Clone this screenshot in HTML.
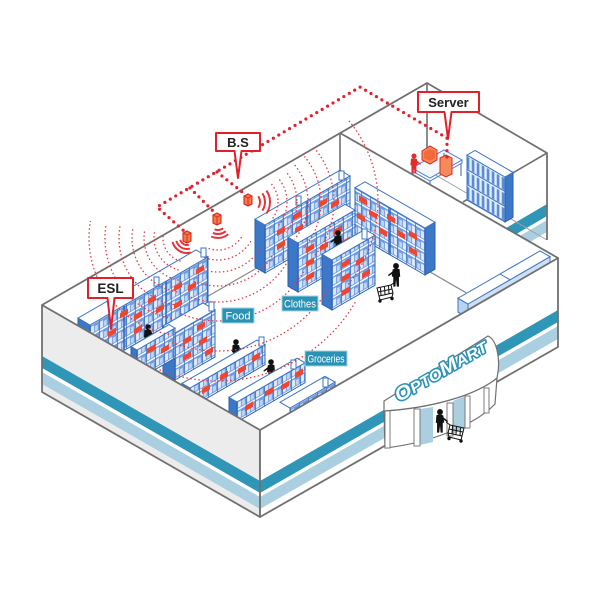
<!DOCTYPE html>
<html><head><meta charset="utf-8">
<style>
html,body{margin:0;padding:0;background:#fff;}
svg{display:block;}
text{font-family:"Liberation Sans",Arial,sans-serif;}
.lbl{font-family:"Liberation Sans Narrow","Liberation Sans",sans-serif;}
</style></head><body>
<svg width="600" height="600" viewBox="0 0 600 600" xmlns="http://www.w3.org/2000/svg" xmlns:xlink="http://www.w3.org/1999/xlink">
<defs>
<pattern id="sp" width="9" height="11" patternUnits="userSpaceOnUse">
 <rect width="9" height="11" fill="#6f9be0"/>
 <rect x="0" y="0" width="9" height="1.6" fill="#fff"/>
 <rect x="1" y="2.6" width="3" height="6.8" fill="#e3edfa"/>
 <rect x="5" y="2.6" width="2.8" height="5.4" fill="#c2d7f3"/>
 <rect x="0" y="0" width="0.7" height="11" fill="#3a6fc2"/>
</pattern>
<pattern id="bp" width="5" height="15" patternUnits="userSpaceOnUse">
 <rect width="5" height="15" fill="#e4edf9"/>
 <rect x="0.6" y="1.5" width="2.6" height="12" fill="#5a8cd6"/>
 <rect x="0" y="0" width="5" height="1.2" fill="#3a74c6"/>
</pattern>
<g id="pp"><circle cx="0" cy="0" r="2.8"/><path d="M-3.4,3 C-1,2.2 1.5,2.4 3.2,3.4 L4,10 L2.6,10.4 L2.6,19.6 L0.6,19.6 L0,13 L-0.8,19.6 L-2.8,19.6 L-2.8,10.6 L-4,10 Z"/><path d="M2.6,4.6 L7.5,8.5 L7.2,9.8 L2,6.6 Z"/></g>
<g id="cart" fill="none" stroke="#111" stroke-width="1"><path d="M0,0 L14,-3 L16,5 L2,8 Z"/><path d="M4,7.5 L3.5,0 M8,6.5 L7.5,-1 M12,5.5 L11.5,-2 M1,4 L15,1"/><path d="M2,8 L3,12 L15,9 L16,5"/><circle cx="3" cy="13" r="1.2" fill="#111"/><circle cx="15" cy="10.5" r="1.2" fill="#111"/><path d="M14,-3 L18,-6"/></g>
<clipPath id="w1s"><polygon points="187,238 251.7,479.5 62,454.5 -54.5,302.7"/></clipPath>
<clipPath id="w1d"><polygon points="187,238 143.6,484.2 -17.8,381.4 -59.2,194.6"/></clipPath>
<clipPath id="w2s"><polygon points="218,222 378.7,413.5 252.8,469.5 112.3,448.6"/></clipPath>
<clipPath id="w2d"><polygon points="218,222 434.5,347 303.5,457 124.3,453.8"/></clipPath>
<clipPath id="w3s"><polygon points="250,202 454.8,58.5 500,202 454.8,345.5"/></clipPath>
<clipPath id="w3d"><polygon points="250,202 441.5,41.3 500,202 441.5,362.7"/></clipPath>
</defs>

<rect width="600" height="600" fill="#fff"/>

<polygon points="505,177.6 547,153 547,240 505,264.3" fill="#fff"/>
<polygon points="505,228.6 547,204 547,216 505,240.6" fill="#2f96b8"/>
<polygon points="505,244.6 547,220 547,232 505,256.6" fill="#a9cfe1"/>
<line x1="427" y1="170" x2="547" y2="240" stroke="#a0a0a0" stroke-width="1"/>
<line x1="427" y1="83" x2="427" y2="170" stroke="#707070" stroke-width="1.6"/>
<line x1="463" y1="202" x2="547" y2="153" stroke="#707070" stroke-width="1.6"/>

<g transform="matrix(-1,-0.577,0,-1,505,222)"><rect width="38" height="45" fill="url(#bp)" stroke="#3a74c6" vector-effect="non-scaling-stroke"/></g>
<g transform="matrix(1,-0.577,0,-1,505,222)"><rect width="8" height="45" fill="#3d78c8" stroke="#2a5fae" vector-effect="non-scaling-stroke"/></g>
<g transform="matrix(-1,-0.577,1,-0.577,505,177)"><rect width="38" height="8" fill="#fff" stroke="#3a74c6" vector-effect="non-scaling-stroke"/></g>
<polygon points="412,168 444,150 462,160 430,178" fill="#f4f8fd" stroke="#4a7fd0" stroke-width="1"/>
<polyline points="412,168 412,171 430,181 462,163 462,160" fill="none" stroke="#4a7fd0" stroke-width="1"/>
<path d="M413,171 V183 M430,181 V193 M461,163 V176 M444,153 V163" stroke="#4a7fd0" stroke-width="1.2"/>
<polygon points="422,160 422,151 430,146 437,150 437,160 430,164" fill="#f58a5a" stroke="#d82a22" stroke-width="1"/>
<polygon points="424,152 430,149 435,151 435,158 430,161 424,158" fill="#f26a3a"/>
<polygon points="440,158 446,155 452,158 452,174 446,177 440,174" fill="#f58a5a" stroke="#d82a22" stroke-width="1"/>
<use xlink:href="#pp" href="#pp" fill="#e32b2b" transform="translate(414,156) scale(0.9)"/>

<polygon points="340,133 558,258 558,345 340,220" fill="#fff"/>

<polyline points="42,305 427,83 547,153 547,240" fill="none" stroke="#707070" stroke-width="1.8" stroke-linejoin="round"/>
<line x1="340" y1="133" x2="558" y2="258" stroke="#707070" stroke-width="1.8"/>
<line x1="340" y1="133" x2="340" y2="220" stroke="#707070" stroke-width="1.6"/>
<line x1="340" y1="220" x2="150" y2="329.6" stroke="#8a8a8a" stroke-width="1.2"/>
<line x1="340" y1="220" x2="466" y2="292.7" stroke="#8a8a8a" stroke-width="1.2"/>

<g transform="matrix(1,-0.577,0,-1,468,318)"><rect width="82" height="14" fill="#cfe0f5" stroke="#3a74c6" vector-effect="non-scaling-stroke"/></g>
<g transform="matrix(-1,-0.577,0,-1,468,318)"><rect width="10" height="14" fill="#b9d2f0" stroke="#3a74c6" vector-effect="non-scaling-stroke"/></g>
<g transform="matrix(1,-0.577,-1,-0.577,468,304)"><rect width="82" height="10" fill="#fff" stroke="#3a74c6" vector-effect="non-scaling-stroke"/><path d="M42,0 V10" stroke="#3a74c6" vector-effect="non-scaling-stroke"/></g>

<g transform="matrix(1,-0.577,0,-1,90,370)"><rect width="118" height="45" fill="url(#sp)" stroke="#2d63b5" vector-effect="non-scaling-stroke"/><path d="M34,0 V45 M76,0 V45" stroke="#2d63b5" stroke-width="1.5" vector-effect="non-scaling-stroke"/>
<g fill="#f0452f"><rect x="18" y="22" width="8" height="5.5"/><rect x="30" y="34" width="8" height="5.5"/><rect x="44" y="24" width="8" height="5.5"/><rect x="44" y="10" width="8" height="5.5"/><rect x="58" y="32" width="8" height="5.5"/><rect x="66" y="18" width="8" height="5.5"/><rect x="84" y="30" width="8" height="5.5"/><rect x="84" y="12" width="8" height="5.5"/><rect x="98" y="22" width="8" height="5.5"/><rect x="106" y="34" width="8" height="5.5"/></g></g>
<g transform="matrix(-1,-0.577,0,-1,90,370)"><rect width="12" height="45" fill="#3d78c8" stroke="#2a5fae" vector-effect="non-scaling-stroke"/></g>
<g transform="matrix(1,-0.577,-1,-0.577,90,325)"><rect width="118" height="12" fill="#fff" stroke="#3a74c6" vector-effect="non-scaling-stroke"/></g>

<g transform="matrix(1,-0.577,0,-1,175,380)"><rect width="40" height="47" fill="url(#sp)" stroke="#2d63b5" vector-effect="non-scaling-stroke"/>
<g fill="#f0452f"><rect x="8" y="30" width="8" height="5.5"/><rect x="8" y="14" width="8" height="5.5"/><rect x="22" y="36" width="8" height="5.5"/><rect x="24" y="20" width="8" height="5.5"/><rect x="30" y="6" width="8" height="5.5"/></g></g>
<g transform="matrix(-1,-0.577,0,-1,175,380)"><rect width="12" height="47" fill="#3d78c8" stroke="#2a5fae" vector-effect="non-scaling-stroke"/></g>
<g transform="matrix(1,-0.577,-1,-0.577,175,333)"><rect width="40" height="12" fill="#fff" stroke="#3a74c6" vector-effect="non-scaling-stroke"/></g>

<use xlink:href="#pp" href="#pp" fill="#111" transform="translate(148,327)"/>

<g transform="matrix(1,-0.577,0,-1,137,380)"><rect width="38" height="30" fill="url(#sp)" stroke="#2d63b5" vector-effect="non-scaling-stroke"/>
<g fill="#f0452f"><rect x="10" y="20" width="8" height="5.5"/><rect x="24" y="12" width="8" height="5.5"/></g></g>
<g transform="matrix(-1,-0.577,0,-1,137,380)"><rect width="6" height="30" fill="#3d78c8" stroke="#2a5fae" vector-effect="non-scaling-stroke"/></g>
<g transform="matrix(1,-0.577,-1,-0.577,137,350)"><rect width="38" height="6" fill="#fff" stroke="#3a74c6" vector-effect="non-scaling-stroke"/></g>

<g transform="matrix(1,-0.577,0,-1,265,273)"><rect width="85" height="48" fill="url(#sp)" stroke="#2d63b5" vector-effect="non-scaling-stroke"/><path d="M42,0 V48" stroke="#2d63b5" stroke-width="1.5" vector-effect="non-scaling-stroke"/>
<g fill="#f0452f"><rect x="12" y="30" width="8" height="5.5"/><rect x="12" y="16" width="8" height="5.5"/><rect x="28" y="36" width="8" height="5.5"/><rect x="30" y="22" width="8" height="5.5"/><rect x="54" y="34" width="8" height="5.5"/><rect x="66" y="26" width="8" height="5.5"/><rect x="72" y="12" width="8" height="5.5"/></g></g>
<g transform="matrix(-1,-0.577,0,-1,265,273)"><rect width="10" height="48" fill="#3d78c8" stroke="#2a5fae" vector-effect="non-scaling-stroke"/></g>
<g transform="matrix(1,-0.577,-1,-0.577,265,225)"><rect width="85" height="10" fill="#fff" stroke="#3a74c6" vector-effect="non-scaling-stroke"/></g>

<g transform="matrix(-1,-0.577,0,-1,425,275)"><rect width="70" height="47" fill="url(#sp)" stroke="#2d63b5" vector-effect="non-scaling-stroke"/><path d="M35,0 V47" stroke="#2d63b5" stroke-width="1.5" vector-effect="non-scaling-stroke"/>
<g fill="#f0452f"><rect x="8" y="30" width="8" height="5.5"/><rect x="8" y="14" width="8" height="5.5"/><rect x="20" y="24" width="8" height="5.5"/><rect x="30" y="34" width="8" height="5.5"/><rect x="38" y="16" width="8" height="5.5"/><rect x="48" y="28" width="8" height="5.5"/><rect x="58" y="36" width="8" height="5.5"/><rect x="60" y="18" width="8" height="5.5"/></g></g>
<g transform="matrix(1,-0.577,0,-1,425,275)"><rect width="10" height="47" fill="#3d78c8" stroke="#2a5fae" vector-effect="non-scaling-stroke"/></g>
<g transform="matrix(-1,-0.577,1,-0.577,425,228)"><rect width="70" height="10" fill="#fff" stroke="#3a74c6" vector-effect="non-scaling-stroke"/></g>

<g transform="matrix(1,-0.577,0,-1,298,292)"><rect width="57" height="49" fill="url(#sp)" stroke="#2d63b5" vector-effect="non-scaling-stroke"/>
<g fill="#f0452f"><rect x="8" y="34" width="8" height="5.5"/><rect x="8" y="20" width="8" height="5.5"/><rect x="8" y="6" width="8" height="5.5"/><rect x="22" y="28" width="8" height="5.5"/><rect x="36" y="36" width="8" height="5.5"/><rect x="44" y="20" width="8" height="5.5"/></g></g>
<g transform="matrix(-1,-0.577,0,-1,298,292)"><rect width="10" height="49" fill="#3d78c8" stroke="#2a5fae" vector-effect="non-scaling-stroke"/></g>
<g transform="matrix(1,-0.577,-1,-0.577,298,243)"><rect width="57" height="10" fill="#fff" stroke="#3a74c6" vector-effect="non-scaling-stroke"/></g>

<use xlink:href="#pp" href="#pp" fill="#111" transform="translate(338,233) scale(-1,1)"/>

<g transform="matrix(1,-0.577,0,-1,332,310)"><rect width="43" height="50" fill="url(#sp)" stroke="#2d63b5" vector-effect="non-scaling-stroke"/>
<g fill="#f0452f"><rect x="10" y="36" width="8" height="5.5"/><rect x="10" y="22" width="8" height="5.5"/><rect x="10" y="8" width="8" height="5.5"/><rect x="24" y="30" width="8" height="5.5"/><rect x="30" y="14" width="8" height="5.5"/></g></g>
<g transform="matrix(-1,-0.577,0,-1,332,310)"><rect width="10" height="50" fill="#3d78c8" stroke="#2a5fae" vector-effect="non-scaling-stroke"/></g>
<g transform="matrix(1,-0.577,-1,-0.577,332,260)"><rect width="43" height="10" fill="#fff" stroke="#3a74c6" vector-effect="non-scaling-stroke"/></g>

<use xlink:href="#cart" href="#cart" transform="translate(377,288)"/>
<use xlink:href="#pp" href="#pp" fill="#111" transform="translate(396,266) scale(-1.05,1.05)"/>

<use xlink:href="#pp" href="#pp" fill="#111" transform="translate(236,342)"/>

<g transform="matrix(1,-0.577,0,-1,190,408)"><rect width="75" height="20" fill="url(#sp)" stroke="#2d63b5" vector-effect="non-scaling-stroke"/>
<g fill="#f0452f"><rect x="12" y="7" width="8" height="5.5"/><rect x="30" y="10" width="8" height="5.5"/><rect x="48" y="6" width="8" height="5.5"/><rect x="62" y="10" width="8" height="5.5"/></g></g>
<g transform="matrix(-1,-0.577,0,-1,190,408)"><rect width="8" height="20" fill="#3d78c8" stroke="#2a5fae" vector-effect="non-scaling-stroke"/></g>
<g transform="matrix(1,-0.577,-1,-0.577,190,388)"><rect width="75" height="8" fill="#fff" stroke="#3a74c6" vector-effect="non-scaling-stroke"/></g>

<use xlink:href="#pp" href="#pp" fill="#111" transform="translate(271,362) scale(-1,1)"/>

<g transform="matrix(1,-0.577,0,-1,237,422)"><rect width="68" height="20" fill="url(#sp)" stroke="#2d63b5" vector-effect="non-scaling-stroke"/>
<g fill="#f0452f"><rect x="8" y="6" width="8" height="5.5"/><rect x="28" y="9" width="8" height="5.5"/><rect x="44" y="6" width="8" height="5.5"/><rect x="58" y="10" width="8" height="5.5"/></g></g>
<g transform="matrix(-1,-0.577,0,-1,237,422)"><rect width="8" height="20" fill="#3d78c8" stroke="#2a5fae" vector-effect="non-scaling-stroke"/></g>
<g transform="matrix(1,-0.577,-1,-0.577,237,402)"><rect width="68" height="8" fill="#fff" stroke="#3a74c6" vector-effect="non-scaling-stroke"/></g>

<g transform="matrix(1,-0.577,0,-1,290,420)"><rect width="45" height="12" fill="url(#sp)" stroke="#2d63b5" vector-effect="non-scaling-stroke"/></g>
<g transform="matrix(1,-0.577,-1,-0.577,290,408)"><rect width="45" height="10" fill="#fff" stroke="#3a74c6" vector-effect="non-scaling-stroke"/></g>

<g fill="#fff" stroke="#3a74c6" stroke-width="1">
<rect x="201" y="248" width="5" height="9"/><rect x="154" y="277" width="5" height="9"/><rect x="209" y="302" width="5" height="9"/>
<rect x="259" y="337" width="5" height="9"/><rect x="291" y="360" width="5" height="9"/><rect x="323" y="378" width="5" height="9"/>
<rect x="296" y="196" width="5" height="9"/><rect x="339" y="171" width="5" height="9"/><rect x="362" y="229" width="5" height="10"/>
</g>

<g fill="none" stroke="#e8333a" stroke-width="2" clip-path="url(#w1s)"><circle cx="187" cy="238" r="7"/><circle cx="187" cy="238" r="11"/><circle cx="187" cy="238" r="15"/></g>
<g fill="none" stroke="#e23a44" stroke-width="1.3" stroke-dasharray="1.5 2.5" clip-path="url(#w1d)"><circle cx="187" cy="238" r="24"/><circle cx="187" cy="238" r="33"/><circle cx="187" cy="238" r="43"/><circle cx="187" cy="238" r="55"/><circle cx="187" cy="238" r="68"/><circle cx="187" cy="238" r="82"/><circle cx="187" cy="238" r="98"/></g>
<g fill="none" stroke="#e8333a" stroke-width="2" clip-path="url(#w2s)"><circle cx="218" cy="222" r="8"/><circle cx="218" cy="222" r="12"/><circle cx="218" cy="222" r="16"/></g>
<g fill="none" stroke="#e23a44" stroke-width="1.3" stroke-dasharray="1.5 2.5" clip-path="url(#w2d)"><circle cx="218" cy="222" r="28"/><circle cx="218" cy="222" r="38"/><circle cx="218" cy="222" r="50"/><circle cx="218" cy="222" r="64"/><circle cx="218" cy="222" r="80"/><circle cx="218" cy="222" r="99"/><circle cx="218" cy="222" r="129"/><circle cx="218" cy="222" r="159"/></g>
<g fill="none" stroke="#e8333a" stroke-width="2" clip-path="url(#w3s)"><circle cx="250" cy="202" r="10"/><circle cx="250" cy="202" r="15"/><circle cx="250" cy="202" r="20"/></g>
<g fill="none" stroke="#e23a44" stroke-width="1.3" stroke-dasharray="1.5 2.5" clip-path="url(#w3d)"><circle cx="250" cy="202" r="28"/><circle cx="250" cy="202" r="37"/><circle cx="250" cy="202" r="47"/><circle cx="250" cy="202" r="58"/><circle cx="250" cy="202" r="71"/><circle cx="250" cy="202" r="84"/><circle cx="250" cy="202" r="128"/></g>

<rect x="222" y="308" width="32" height="15" fill="#2a93b5" stroke="#9fd2e4" stroke-width="1"/>
<text class="lbl" x="238" y="319.5" font-size="11" fill="#fff" text-anchor="middle">Food</text>
<rect x="282" y="296" width="36" height="15" fill="#2a93b5" stroke="#9fd2e4" stroke-width="1"/>
<text class="lbl" x="300" y="307.5" font-size="11" fill="#fff" text-anchor="middle" textLength="32" lengthAdjust="spacingAndGlyphs">Clothes</text>
<rect x="305" y="351" width="42" height="15" fill="#2a93b5" stroke="#9fd2e4" stroke-width="1"/>
<text class="lbl" x="326" y="362.5" font-size="11" fill="#fff" text-anchor="middle" textLength="37" lengthAdjust="spacingAndGlyphs">Groceries</text>

<path d="M447,157 L447,138 L360,87 L157,207 L184,231 M190,188 L215,213 M217,172 L246,195" fill="none" stroke="#e3202e" stroke-width="3.2" stroke-dasharray="0 6.3" stroke-linecap="round" stroke-linejoin="round"/>
<g fill="#f47a4a" stroke="#d9261f" stroke-width="1.1">
<path d="M183,233 L187,231 L191,233 L191,241 L187,243 L183,241 Z"/>
<path d="M213,215 L217,213 L221,215 L221,223 L217,225 L213,223 Z"/>
<path d="M244,196 L248,194 L252,196 L252,204 L248,206 L244,204 Z"/>
</g>
<path d="M183,233 L187,235 L191,233 M187,235 V243 M213,215 L217,217 L221,215 M217,217 V225 M244,196 L248,198 L252,196 M248,198 V206" fill="none" stroke="#d9261f" stroke-width="0.9"/>

<polygon points="42,305 260,430 260,517 42,392" fill="#ececec"/>
<polygon points="42,356 260,481 260,493 42,368" fill="#2f96b8"/>
<polygon points="42,368 260,493 260,497 42,372" fill="#fff"/>
<polygon points="42,372 260,497 260,509 42,384" fill="#a9cfe1"/>
<polygon points="42,305 260,430 260,517 42,392" fill="none" stroke="#707070" stroke-width="1.8" stroke-linejoin="round"/>

<polygon points="260,430 558,258 558,347 260,517" fill="#fff"/>
<polygon points="260,481 558,310 558,322 260,493" fill="#2f96b8"/>
<polygon points="260,497 558,326 558,339 260,509" fill="#a9cfe1"/>
<polygon points="260,430 558,258 558,347 260,517" fill="none" stroke="#707070" stroke-width="1.8" stroke-linejoin="round"/>

<path d="M384,411 C430,408 475,396 497,378 L495,404 C475,425 430,443 385,448 Z" fill="#fff" stroke="#707070" stroke-width="1.2"/>
<polygon points="420,409 433,407 433,442 420,445" fill="#a9cfe1"/>
<polygon points="453,401 465,396 465,428 453,434" fill="#a9cfe1"/>
<g fill="#fff" stroke="#707070" stroke-width="0.9">
<rect x="385" y="410" width="5" height="38"/><rect x="414" y="409" width="6" height="37"/><rect x="447" y="403" width="6" height="33"/><rect x="465" y="396" width="5" height="32"/><rect x="484" y="388" width="5" height="25"/>
</g>
<use xlink:href="#pp" href="#pp" fill="#111" transform="translate(440,412) scale(1.05)"/>
<use xlink:href="#cart" href="#cart" transform="translate(464,428) scale(-1,1)"/>
<path d="M384,401 L488,336 C497,340 501,360 497,378 C475,396 430,408 384,411 Z" fill="#fff" stroke="#707070" stroke-width="1.2" stroke-linejoin="round"/>
<text transform="translate(441,371) rotate(-30)" y="6" text-anchor="middle" font-size="15" font-weight="bold" font-style="italic" fill="#fff" stroke="#2b92b6" stroke-width="3" stroke-linejoin="round" paint-order="stroke" textLength="104" lengthAdjust="spacingAndGlyphs"><tspan font-size="19">O</tspan>PTO<tspan font-size="19">M</tspan>ART</text>

<path d="M88,278 H133 V298 H114.5 L111,329 L107.5,298 H88 Z" fill="#fff" stroke="#e0202a" stroke-width="2" stroke-linejoin="round"/>
<text x="110.5" y="293" font-size="13.5" font-weight="bold" text-anchor="middle" fill="#222">ESL</text>
<path d="M216,133 H260 V151 H241.5 L238,178 L234.5,151 H216 Z" fill="#fff" stroke="#e0202a" stroke-width="2" stroke-linejoin="round"/>
<text x="238" y="147" font-size="13" font-weight="bold" text-anchor="middle" fill="#222">B.S</text>
<path d="M418,92 H479 V112 H451.5 L448,139 L444.5,112 H418 Z" fill="#fff" stroke="#e0202a" stroke-width="2" stroke-linejoin="round"/>
<text x="448.5" y="107" font-size="13" font-weight="bold" text-anchor="middle" fill="#222">Server</text>
</svg>
</body></html>
